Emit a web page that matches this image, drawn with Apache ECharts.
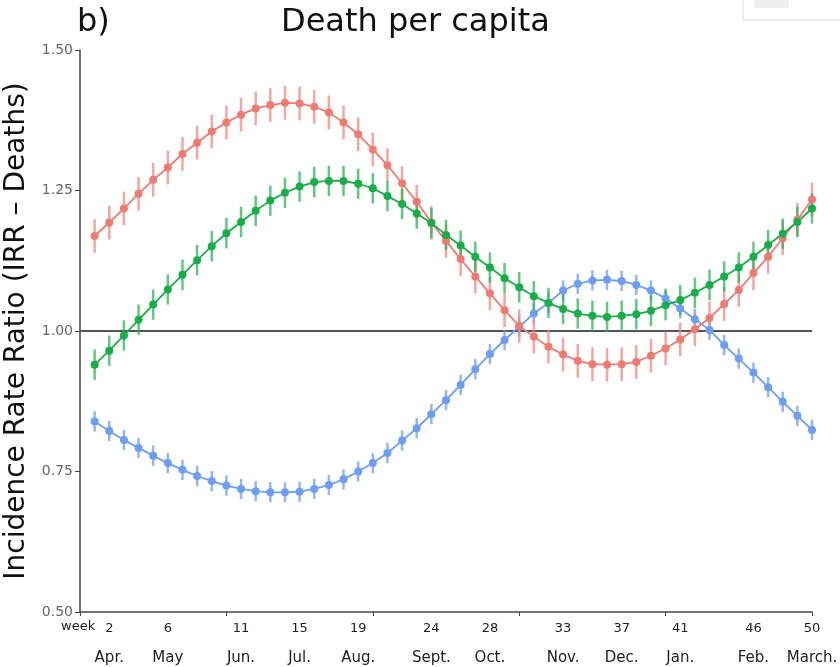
<!DOCTYPE html>
<html>
<head>
<meta charset="utf-8">
<title>Death per capita</title>
<script src="https://cdn.jsdelivr.net/npm/echarts@6/dist/echarts.min.js"></script>
<style>
    html, body {margin: 0; padding: 0; background: #fff;}
    #main {width: 840px; height: 667px;}
</style>
</head>
<body>
<div id="main"></div>
<script>
// weeks 1..50 of the season
var weeks = [1, 2, 3, 4, 5, 6, 7, 8, 9, 10, 11, 12, 13, 14, 15, 16, 17, 18, 19, 20, 21, 22, 23, 24, 25,
    26, 27, 28, 29, 30, 31, 32, 33, 34, 35, 36, 37, 38, 39, 40, 41, 42, 43, 44, 45, 46, 47, 48, 49, 50];

var redIrr = [1.169, 1.193, 1.218, 1.244, 1.269, 1.291, 1.315, 1.335, 1.355, 1.371,
    1.385, 1.396, 1.402, 1.406, 1.405, 1.399, 1.389, 1.371, 1.350, 1.323,
    1.295, 1.263, 1.230, 1.193, 1.160, 1.128, 1.097, 1.067, 1.037, 1.009,
    0.990, 0.972, 0.958, 0.947, 0.941, 0.940, 0.941, 0.945, 0.956, 0.969,
    0.985, 1.003, 1.023, 1.048, 1.073, 1.103, 1.132, 1.165, 1.198, 1.234];
var greenIrr = [0.940, 0.965, 0.992, 1.020, 1.047, 1.074, 1.100, 1.126, 1.151, 1.174,
    1.194, 1.214, 1.232, 1.246, 1.257, 1.265, 1.267, 1.267, 1.262, 1.254,
    1.240, 1.226, 1.209, 1.192, 1.171, 1.152, 1.132, 1.113, 1.094, 1.078,
    1.062, 1.050, 1.039, 1.031, 1.027, 1.025, 1.027, 1.030, 1.036, 1.046,
    1.055, 1.068, 1.082, 1.097, 1.113, 1.132, 1.153, 1.173, 1.194, 1.218];
var blueIrr = [0.839, 0.822, 0.806, 0.792, 0.778, 0.765, 0.753, 0.742, 0.733, 0.725,
    0.719, 0.715, 0.713, 0.713, 0.714, 0.719, 0.726, 0.736, 0.750, 0.765,
    0.783, 0.805, 0.827, 0.852, 0.877, 0.904, 0.932, 0.959, 0.984, 1.008,
    1.031, 1.050, 1.072, 1.084, 1.090, 1.091, 1.089, 1.082, 1.072, 1.058,
    1.040, 1.021, 1.002, 0.975, 0.951, 0.926, 0.900, 0.874, 0.849, 0.824];

// half width of the error bars
var redErr = 0.03;
var greenErr = 0.027;
var blueErr = 0.018;

var labelWeeks = [2, 6, 11, 15, 19, 24, 28, 33, 37, 41, 46, 50];
var monthLabels = ['Apr.', 'May', 'Jun.', 'Jul.', 'Aug.', 'Sept.', 'Oct.', 'Nov.', 'Dec.', 'Jan.', 'Feb.', 'March.'];
var xTicks = [0, 10, 20, 30, 40, 50];

var chart = echarts.init(document.getElementById('main'));
var font = 'DejaVu Sans, Liberation Sans, Arial, sans-serif';

var points = function (vals) {
    return weeks.map(function (w, i) {
        return [w, vals[i]];
    });
};
var bars = function (vals, err) {
    return weeks.map(function (w, i) {
        return [w, vals[i] - err, vals[i] + err];
    });
};
var errSeries = function (name, vals, err, color) {
    return {
        name: name,
        type: 'custom',
        data: bars(vals, err),
        encode: {x: 0, y: [1, 2]},
        renderItem: function (params, api) {
            var lo = api.coord([api.value(0), api.value(1)]);
            var hi = api.coord([api.value(0), api.value(2)]);
            return {
                type: 'line',
                shape: {x1: lo[0], y1: lo[1], x2: hi[0], y2: hi[1]},
                style: {stroke: color, lineWidth: 2.5, opacity: 0.75}
            };
        },
        z: 2
    };
};
var lineSeries = function (name, vals, color) {
    return {
        name: name,
        type: 'line',
        data: points(vals),
        symbol: 'circle',
        symbolSize: 8,
        lineStyle: {color: color, width: 1.8},
        itemStyle: {color: color},
        z: 3
    };
};

var option = {
    animation: false,
    backgroundColor: '#fff',
    textStyle: {fontFamily: font},
    title: [{
        text: 'b)',
        left: 77,
        top: 7,
        padding: 0,
        textStyle: {fontSize: 32, fontWeight: 'normal', color: '#111', fontFamily: font}
    }, {
        text: 'Death per capita',
        left: 281,
        top: 7,
        padding: 0,
        textStyle: {fontSize: 32, fontWeight: 'normal', color: '#111', fontFamily: font}
    }],
    graphic: [{
        type: 'rect',
        shape: {x: 743, y: -2, width: 100, height: 22},
        style: {fill: '#fff', stroke: '#ddd', lineWidth: 1}
    }, {
        type: 'rect',
        shape: {x: 754, y: -2, width: 35, height: 10},
        style: {fill: '#f0f0f0'}
    }, {
        type: 'text',
        left: 61,
        top: 620,
        style: {text: 'week', font: '13px ' + font, fill: '#222'}
    }],
    grid: {left: 80, right: 28, top: 50, bottom: 55, outerBoundsMode: 'none'},
    xAxis: {
        type: 'value',
        min: 0,
        max: 50,
        interval: 10,
        splitLine: {show: false},
        axisLine: {show: true, lineStyle: {color: '#444', width: 1.5}},
        axisTick: {show: true, length: 4, customValues: xTicks, lineStyle: {color: '#444'}},
        axisLabel: {
            customValues: labelWeeks,
            margin: 8,
            formatter: function (v) {
                var i = labelWeeks.indexOf(v);
                return '{w|' + v + '}\n{m|' + monthLabels[i] + '}';
            },
            rich: {
                w: {fontSize: 13, color: '#222', lineHeight: 17, fontFamily: font},
                m: {fontSize: 15, color: '#222', lineHeight: 42, fontFamily: font}
            }
        }
    },
    yAxis: {
        type: 'value',
        min: 0.5,
        max: 1.5,
        interval: 0.25,
        name: 'Incidence Rate Ratio (IRR \u2013 Deaths)',
        nameLocation: 'middle',
        nameGap: 48,
        nameTextStyle: {fontSize: 28, color: '#111', fontFamily: font},
        splitLine: {show: false},
        axisLine: {show: true, lineStyle: {color: '#444', width: 1.5}},
        axisTick: {show: true, length: 5, lineStyle: {color: '#444'}},
        axisLabel: {
            fontSize: 14,
            color: '#666',
            margin: 7,
            formatter: function (v) {
                return v.toFixed(2);
            }
        }
    },
    series: [
        errSeries('blueErr', blueIrr, blueErr, '#6d9ef2'),
        errSeries('redErr', redIrr, redErr, '#f08a82'),
        errSeries('greenErr', greenIrr, greenErr, '#2cb457'),
        lineSeries('blue', blueIrr, '#6d9ef2'),
        lineSeries('red', redIrr, '#ee7b72'),
        {
            name: 'green',
            type: 'line',
            data: points(greenIrr),
            symbol: 'circle',
            symbolSize: 8,
            lineStyle: {color: '#18ad48', width: 1.8},
            itemStyle: {color: '#18ad48'},
            z: 3,
            markLine: {
                silent: true,
                symbol: 'none',
                label: {show: false},
                lineStyle: {color: '#555', width: 2, type: 'solid'},
                data: [{yAxis: 1}],
                z: 1
            }
        }
    ]
};
chart.setOption(option);
</script>
</body>
</html>
